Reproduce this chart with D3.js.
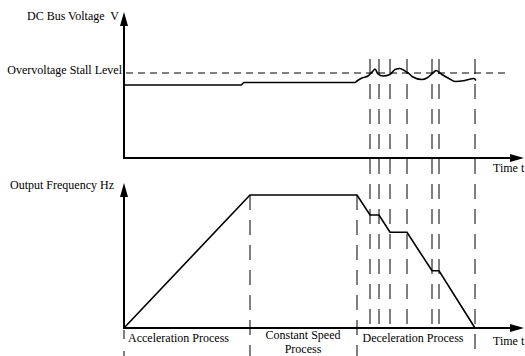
<!doctype html>
<html lang="en">
  <head>
    <meta charset="utf-8">
    <title>Overvoltage stall</title>
    <style>
    body { margin: 0; background: #fff; }
    text { font-family: "Liberation Serif", "Times New Roman", "DejaVu Serif", serif; font-size: 12px; fill: #000; }
    .curve { fill: none; stroke: #000; stroke-width: 1.6px; }
    .axis { stroke: #000; stroke-width: 2px; }
    .vdash { stroke: #000; stroke-width: 1px; stroke-dasharray: 15,10; }
    </style>
  </head>
  <body>
    <div id="content"></div>
    <script src="https://d3js.org/d3.v7.min.js"></script>
    <script type="text/javascript">
    var w = 525;
    var h = 356;

    // DC bus voltage (top panel)
    var voltTime = [0, 117, 120, 231, 233, 238, 244, 249, 251, 254, 259, 266, 271, 276, 281, 286, 288,
                    298, 303, 310, 312, 318, 325, 331, 341, 350, 352];
    var voltValue = [73, 73, 75.5, 75.5, 77, 80, 82, 87, 89, 84, 82, 83.5, 88.5, 89.5, 87, 83.5, 81.5,
                     78.5, 80, 86, 87.5, 83.5, 79.5, 76.5, 77.5, 79.5, 77.5];
    var stallLevel = 85;

    // output frequency (bottom panel)
    var freqTime = [0, 126, 233, 246, 255, 266, 283, 308, 315, 351];
    var freqValue = [0, 100, 100, 85, 85, 72, 72, 43, 43, 0];

    // dashed time markers
    var stallMarks = [246, 255, 266, 283, 308, 315];
    var phaseMarks = [126, 233];
    var endMark = 351;

    // phase labels, placed at the middle time of each label
    var phaseLabels = [
      {t: 54.5, lines: ['Acceleration Process']},
      {t: 179, lines: ['Constant Speed', 'Process']},
      {t: 289, lines: ['Deceleration Process']}
    ];

    var xScale = d3.scaleLinear().domain([0, 400]).range([124, 524]);
    var yVolt = d3.scaleLinear().domain([0, 100]).range([158, 58]);
    var yFreq = d3.scaleLinear().domain([0, 100]).range([328, 195]);

    var svg = d3.select('#content')
                .append('svg')
                .attr('width', w)
                .attr('height', h);

    // vertical dashed markers
    svg.selectAll('.stallMark')
      .data(stallMarks)
      .enter().append('line')
      .attr('class', 'vdash')
      .attr('x1', d => xScale(d)).attr('x2', d => xScale(d))
      .attr('y1', 59).attr('y2', yFreq(0));

    svg.append('line')
      .attr('class', 'vdash')
      .attr('x1', xScale(endMark)).attr('x2', xScale(endMark))
      .attr('y1', 59).attr('y2', h);

    svg.selectAll('.phaseMark')
      .data(phaseMarks)
      .enter().append('line')
      .attr('class', 'vdash')
      .attr('x1', d => xScale(d)).attr('x2', d => xScale(d))
      .attr('y1', yFreq(100)).attr('y2', h);

    svg.append('line')
      .attr('class', 'vdash')
      .style('stroke-dasharray', '9,12')
      .attr('x1', xScale(0)).attr('x2', xScale(0))
      .attr('y1', yFreq(0) + 2).attr('y2', h);

    // stall level
    svg.append('line')
      .attr('stroke', '#000')
      .attr('stroke-width', 1)
      .attr('stroke-dasharray', '7,5')
      .attr('x1', xScale(0) + 2).attr('x2', xScale(381))
      .attr('y1', yVolt(stallLevel)).attr('y2', yVolt(stallLevel));

    // axes with arrows
    function axes(yScale, topY) {
      svg.append('line').attr('class', 'axis')
        .attr('x1', xScale(0)).attr('x2', xScale(0))
        .attr('y1', yScale(0) + 1).attr('y2', topY + 8);
      svg.append('path')
        .attr('d', d3.line()([[xScale(0), topY], [xScale(0) - 4, topY + 14], [xScale(0) + 4, topY + 14]]) + 'Z')
        .attr('fill', '#000');
      svg.append('line').attr('class', 'axis')
        .attr('x1', xScale(0) - 1).attr('x2', xScale(392))
        .attr('y1', yScale(0)).attr('y2', yScale(0));
      svg.append('path')
        .attr('d', d3.line()([[xScale(400), yScale(0)], [xScale(386), yScale(0) - 4], [xScale(386), yScale(0) + 4]]) + 'Z')
        .attr('fill', '#000');
    }
    axes(yVolt, 12);
    axes(yFreq, 183);

    // voltage curve
    var voltLine = d3.line()
      .x((d, i) => xScale(voltTime[i]))
      .y(d => yVolt(d))
      .curve(d3.curveMonotoneX);

    svg.append('path')
      .datum(voltValue)
      .attr('class', 'curve')
      .attr('d', voltLine);

    // frequency curve
    var freqLine = d3.line()
      .x((d, i) => xScale(freqTime[i]))
      .y(d => yFreq(d));

    svg.append('path')
      .datum(freqValue)
      .attr('class', 'curve')
      .attr('stroke-linejoin', 'miter')
      .attr('d', freqLine);

    // labels
    svg.append('text').attr('x', 119).attr('y', 20).attr('text-anchor', 'end')
      .style('white-space', 'pre')
      .text('DC Bus Voltage  V');
    svg.append('text').attr('x', 122).attr('y', 74).attr('text-anchor', 'end')
      .text('Overvoltage Stall Level');
    svg.append('text').attr('x', 10).attr('y', 189)
      .text('Output Frequency Hz');
    svg.append('text').attr('x', 493).attr('y', 172).text('Time t');
    svg.append('text').attr('x', 493).attr('y', 345).text('Time t');

    phaseLabels.forEach(p => {
      var y0 = p.lines.length > 1 ? 339 : 342;
      p.lines.forEach((s, i) => {
        svg.append('text')
          .attr('x', xScale(p.t)).attr('y', y0 + i * 14)
          .attr('text-anchor', 'middle')
          .text(s);
      });
    });
    </script>
  </body>
</html>
